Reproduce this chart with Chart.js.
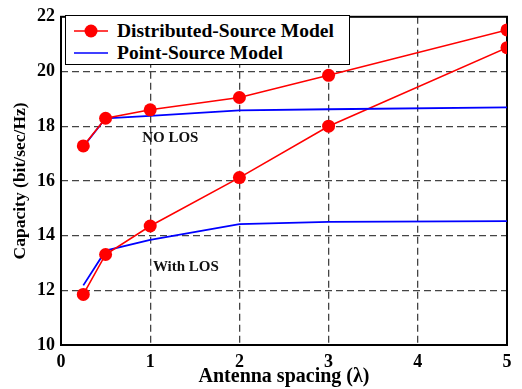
<!DOCTYPE html>
<html>
<head>
<meta charset="utf-8">
<script src="https://cdn.jsdelivr.net/npm/chart.js@4.4.1/dist/chart.umd.min.js"></script>
<style>
  html, body { margin: 0; padding: 0; background: #fff; }
  #wrap { position: relative; width: 522px; height: 389px; }
  #legend {
    position: absolute; left: 65px; top: 15px; width: 283px; height: 48px;
    border: 1.5px solid #000; background: #fff;
    font-family: 'Liberation Serif', 'Times New Roman', serif; font-weight: bold; font-size: 19.5px;
  }
  .row { position: absolute; left: 0; height: 22px; width: 100%; }
  .row svg { position: absolute; left: 6px; top: 0; }
  .row span { position: absolute; left: 51px; top: 0px; line-height: 22px; white-space: nowrap; }
</style>
</head>
<body>
<div id="wrap">
  <canvas id="c" width="522" height="389"></canvas>
  <div id="legend">
    <div class="row" style="top:4px">
      <svg width="40" height="22"><line x1="2" y1="11" x2="36" y2="11" stroke="#ff0000" stroke-width="1.6"/><circle cx="19" cy="11" r="6.5" fill="#ff0000"/></svg>
      <span>Distributed-Source Model</span>
    </div>
    <div class="row" style="top:26px">
      <svg width="40" height="22"><line x1="2" y1="11" x2="36" y2="11" stroke="#0000ff" stroke-width="1.6"/></svg>
      <span>Point-Source Model</span>
    </div>
  </div>
</div>
<script>
const xValues = [0.25, 0.5, 1, 2, 3, 5];
const distNoLOS = [17.28, 18.29, 18.6, 19.05, 19.86, 21.52];
const distLOS = [11.85, 13.31, 14.35, 16.12, 18.0, 20.87];
const pointNoLOS = [17.25, 18.29, 18.38, 18.58, 18.62, 18.69];
const pointLOS = [12.18, 13.45, 13.84, 14.42, 14.5, 14.53];
const xTicks = [0, 1, 2, 3, 4, 5];
const yTicks = [10, 12, 14, 16, 18, 20, 22];
const annotations = [
  { text: 'NO LOS', x: 0.91, y: 17.58 },
  { text: 'With LOS', x: 1.03, y: 12.85 }
];

const FONT = "'Liberation Serif', 'Times New Roman', serif";
const pts = arr => arr.map((v, i) => ({ x: xValues[i], y: v }));

const redStyle = { borderColor: '#ff0000', backgroundColor: '#ff0000', borderWidth: 1.6, pointRadius: 6.5, pointHoverRadius: 6.5, pointBorderWidth: 0, tension: 0 };
const blueStyle = { borderColor: '#0000ff', backgroundColor: '#0000ff', borderWidth: 1.8, pointRadius: 0, tension: 0 };

const frame = {
  id: 'frame',
  beforeDatasetsDraw(chart) {
    const { ctx, chartArea: a } = chart;
    ctx.save();
    ctx.strokeStyle = '#000';
    ctx.lineWidth = 2;
    ctx.strokeRect(a.left, a.top, a.right - a.left, a.bottom - a.top);
    ctx.restore();
  },
  afterDatasetsDraw(chart) {
    const { ctx, scales } = chart;
    ctx.save();
    ctx.fillStyle = '#111';
    ctx.font = 'bold 15px ' + FONT;
    ctx.textAlign = 'left';
    ctx.textBaseline = 'middle';
    annotations.forEach(a => {
      ctx.fillText(a.text, scales.x.getPixelForValue(a.x), scales.y.getPixelForValue(a.y));
    });
    ctx.restore();
  }
};

const gridColor = (min, max) => c => (c.tick && (c.tick.value === min || c.tick.value === max)) ? 'rgba(0,0,0,0)' : '#444';

new Chart(document.getElementById('c'), {
  type: 'line',
  data: {
    datasets: [
      Object.assign({ label: 'Distributed-Source Model', data: pts(distNoLOS) }, redStyle),
      Object.assign({ label: 'Point-Source Model', data: pts(pointNoLOS) }, blueStyle),
      Object.assign({ label: 'Distributed-Source Model (LOS)', data: pts(distLOS) }, redStyle),
      Object.assign({ label: 'Point-Source Model (LOS)', data: pts(pointLOS) }, blueStyle)
    ]
  },
  options: {
    responsive: false,
    animation: false,
    events: [],
    layout: { padding: { left: 0, top: 11, right: 15, bottom: 0 } },
    plugins: { legend: { display: false }, tooltip: { enabled: false } },
    scales: {
      x: {
        type: 'linear', min: 0, max: 5,
        afterBuildTicks: s => { s.ticks = xTicks.map(v => ({ value: v })); },
        afterFit: s => { s.height = 44; },
        grid: { color: gridColor(0, 5), lineWidth: 1.3, drawTicks: false },
        border: { display: false, dash: [7, 4] },
        ticks: { color: '#000', padding: 7, font: { family: FONT, weight: 'bold', size: 18 } },
        title: { display: true, text: 'Antenna spacing (λ)', color: '#000', padding: 0, font: { family: FONT, weight: 'bold', size: 20 } }
      },
      y: {
        type: 'linear', min: 10, max: 22,
        afterBuildTicks: s => { s.ticks = yTicks.map(v => ({ value: v })); },
        afterFit: s => { s.width = 61; },
        grid: { color: gridColor(10, 22), lineWidth: 1.3, drawTicks: false },
        border: { display: false, dash: [7, 4] },
        ticks: { color: '#000', padding: 6, font: { family: FONT, weight: 'bold', size: 18 } },
        title: { display: true, text: 'Capacity (bit/sec/Hz)', color: '#000', padding: { top: 10, bottom: 0 }, font: { family: FONT, weight: 'bold', size: 17.5 } }
      }
    }
  },
  plugins: [frame]
});
</script>
</body>
</html>
